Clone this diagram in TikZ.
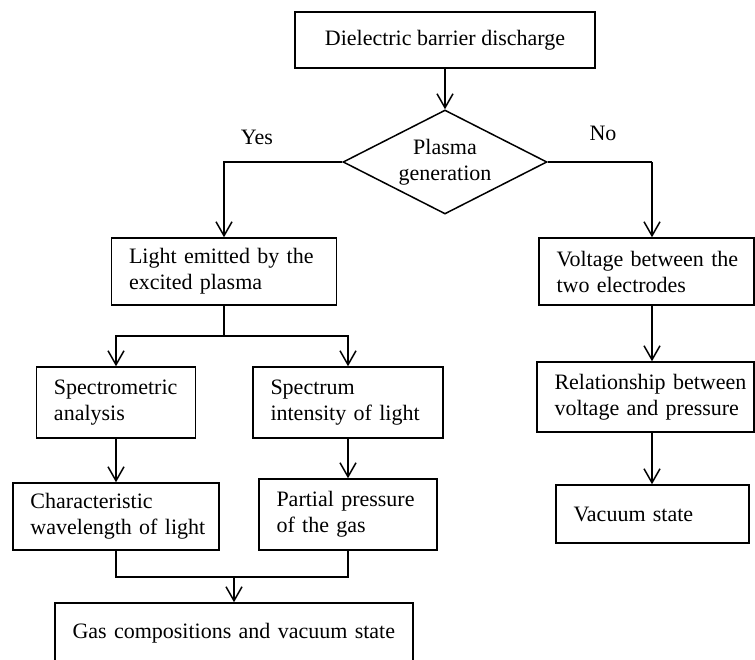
\documentclass[tikz,border=0pt]{standalone}
\usepackage{fontspec}
\setmainfont{Liberation Serif}
\usetikzlibrary{shapes.geometric,arrows.meta}
\tikzset{
	procbox/.style={draw,rectangle,line width=1.5pt,inner xsep=5pt,inner ysep=0pt,
		align=left,execute at begin node={\leftskip=12.5pt}},
	titlebox/.style={draw,rectangle,line width=1.5pt,inner sep=0pt,align=center},
	decide/.style={draw,diamond,line width=1.5pt,inner sep=0pt,aspect=2,align=center,
		minimum width=204pt,minimum height=104pt},
	flow/.style={line width=1.5pt,-{Straight Barb[length=14pt,width=16pt]}}
}
\begin{document}
\begin{tikzpicture}[x=1pt,y=-1pt,line width=1.5pt,
	font=\fontsize{22}{26}\selectfont]
	\useasboundingbox (0,0) rectangle (755,660);
	\clip (0,0) rectangle (755,660);
	% cac khoi
	\node[titlebox,minimum width=300pt,minimum height=56pt] (dbd) at (445,40) {Dielectric barrier discharge};
	\node[decide] (gen) at (445,162) {Plasma\\generation};
	\node (yes) at (257,137) {Yes};
	\node (no) at (603,133) {No};
	\node[procbox,text width=215pt,minimum height=67pt] (light) at (224,271.5) {Light emitted by the\\excited plasma};
	\node[procbox,text width=149pt,minimum height=71pt] (spa) at (116,402.5) {Spectrometric\\analysis};
	\node[procbox,text width=180pt,minimum height=71pt] (spi) at (348,402.5) {Spectrum\\intensity of light};
	\node[procbox,text width=196pt,minimum height=67pt] (wav) at (116,516.5) {Characteristic\\wavelength of light};
	\node[procbox,text width=168pt,minimum height=71pt] (pp) at (348,514.5) {Partial pressure\\of the gas};
	\node[procbox,text width=348pt,minimum height=60pt] (gas) at (234,633) {Gas compositions and vacuum state};
	\node[procbox,text width=205pt,minimum height=67pt] (vol) at (646.5,271.5) {Voltage between the\\two electrodes};
	\node[procbox,text width=207pt,minimum height=70pt] (rel) at (645.5,397) {Relationship between\\voltage and pressure};
	\node[procbox,text width=183pt,minimum height=58pt] (vac) at (652.5,514) {Vacuum state};
	% cac mui ten
	\coordinate (noturn) at (652,162);
	\coordinate (fork) at (224,336);
	\coordinate (merge) at (234,577);
	\draw[flow] (dbd) -- (gen);
	\draw[flow] (gen.west) -| (light.north);
	\draw (gen.east) -- (noturn);
	\draw[flow] (noturn) -- (noturn |- vol.north);
	\draw[flow] (noturn |- vol.south) -- (noturn |- rel.north);
	\draw[flow] (noturn |- rel.south) -- (noturn |- vac.north);
	\draw (light.south) -- (fork);
	\draw[flow] (fork) -| (spa.north);
	\draw[flow] (fork) -| (spi.north);
	\draw[flow] (spa.south) -- (wav.north);
	\draw[flow] (spi.south) -- (pp.north);
	\draw (wav.south) |- (merge);
	\draw (pp.south) |- (merge);
	\draw[flow] (merge) -- (merge |- gas.north);
\end{tikzpicture}
\end{document}
